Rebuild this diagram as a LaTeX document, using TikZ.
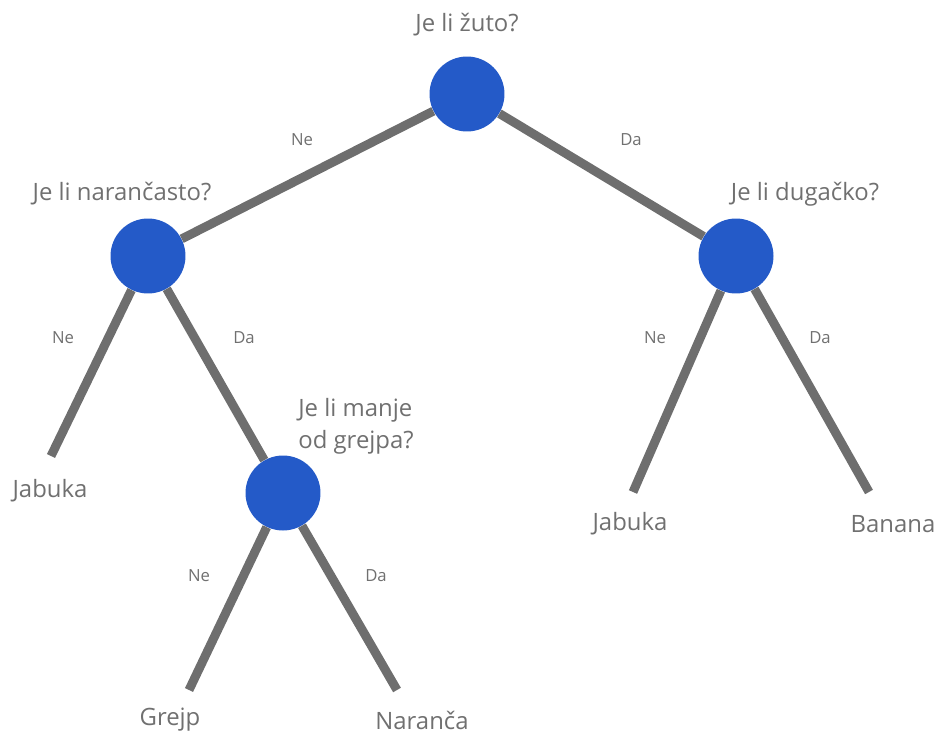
\documentclass[tikz,border=0pt]{standalone}
\usepackage{fontspec}
\setmainfont{Open Sans}
\definecolor{plava}{HTML}{245AC8}
\definecolor{siva}{HTML}{6E6E6E}
\definecolor{tekst}{HTML}{707070}
\tikzset{
  pitanje/.style={circle,fill=plava,minimum size=1.5cm,inner sep=0pt},
  grana/.style={draw=siva,line width=5.1pt},
  natpis/.style={text=tekst,font=\fontsize{13.6}{18}\selectfont},
  oznaka/.style={text=tekst,font=\fontsize{9.5}{11}\selectfont},
}
\begin{document}
\begin{tikzpicture}[x=0.02cm,y=-0.02cm]
        \useasboundingbox (0,0) rectangle (936,734);
        % Cvorovi s pitanjima
        \node[pitanje] (Zuto) at (467,94) {};
        \node[pitanje] (Narancasto) at (148,256) {};
        \node[pitanje] (Dugacko) at (736,256) {};
        \node[pitanje] (Manje) at (283,493) {};
        % Krajevi grana
        \coordinate (kJabukaL) at (51,456);
        \coordinate (kGrejp) at (189,690);
        \coordinate (kNaranca) at (397,690);
        \coordinate (kJabukaD) at (633,492);
        \coordinate (kBanana) at (869,492);
        % Grane
        \draw[grana] (Zuto) -- (Narancasto);
        \draw[grana] (Zuto) -- (Dugacko);
        \draw[grana] (Narancasto) -- (kJabukaL);
        \draw[grana] (Narancasto) -- (Manje);
        \draw[grana] (Manje) -- (kGrejp);
        \draw[grana] (Manje) -- (kNaranca);
        \draw[grana] (Dugacko) -- (kJabukaD);
        \draw[grana] (Dugacko) -- (kBanana);
        % Pitanja
        \node[natpis] (tZuto) at (467,25) {Je li žuto?};
        \node[natpis] (tNarancasto) at (122,194) {Je li narančasto?};
        \node[natpis] (tDugacko) at (805,194) {Je li dugačko?};
        \node[natpis,align=left] (tManje) at (356,426) {Je li manje\\od grejpa?};
        % Listovi
        \node[natpis] (JabukaL) at (50,491) {Jabuka};
        \node[natpis] (Grejp) at (170,720) {Grejp};
        \node[natpis] (Naranca) at (422,720) {Naranča};
        \node[natpis] (JabukaD) at (630,524) {Jabuka};
        \node[natpis] (Banana) at (893,524) {Banana};
        % Oznake grana
        \node[oznaka] (ne1) at (302,140) {Ne};
        \node[oznaka] (da1) at (631,140) {Da};
        \node[oznaka] (ne2) at (63,338) {Ne};
        \node[oznaka] (da2) at (244,338) {Da};
        \node[oznaka] (ne3) at (655,338) {Ne};
        \node[oznaka] (da3) at (820,338) {Da};
        \node[oznaka] (ne4) at (199,576) {Ne};
        \node[oznaka] (da4) at (376,576) {Da};
    \end{tikzpicture}
\end{document}
